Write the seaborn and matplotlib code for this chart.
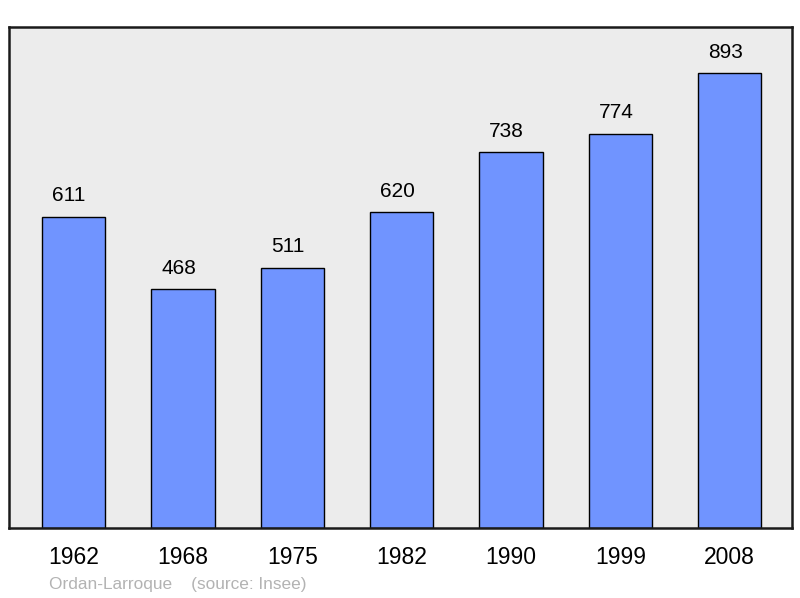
import matplotlib
matplotlib.use("Agg")
import matplotlib.pyplot as plt
import seaborn as sns
import pandas as pd

# Population data
years = ["1962", "1968", "1975", "1982", "1990", "1999", "2008"]
population = [611, 468, 511, 620, 738, 774, 893]

df = pd.DataFrame({"year": years, "population": population})

sns.set_theme(style="white")
plt.rcParams["font.family"] = ["Liberation Sans", "DejaVu Sans"]

fig = plt.figure(figsize=(8, 5.98), dpi=100)
ax = fig.add_axes([9 / 800, 70 / 598, 783 / 800, 501 / 598])
ax.set_facecolor("#ececec")

sns.barplot(data=df, x="year", y="population", order=years, color="#7094ff",
            saturation=1, width=0.58, edgecolor="black", linewidth=1, ax=ax)

# value labels, slightly left of bar centre like the original
for i, v in enumerate(population):
    ax.text(i - 0.04, v + 22, str(v), ha="center", va="bottom", fontsize=15, color="black")

ax.set_xlim(-0.59, 6.57)
ax.set_ylim(0, 983)
ax.set_xlabel("")
ax.set_ylabel("")
ax.set_yticks([])
ax.tick_params(axis="x", length=0, pad=13, labelsize=16.5, labelcolor="black")

for s in ax.spines.values():
    s.set_visible(True)
    s.set_linewidth(1.8)
    s.set_color("#1a1a1a")

fig.text(49 / 800, 1 - 584 / 598, "Ordan-Larroque    (source: Insee)",
         fontsize=12.4, color="#b3b3b3", va="center", ha="left")

fig.savefig("out.png", dpi=100, facecolor="white")
plt.close()
